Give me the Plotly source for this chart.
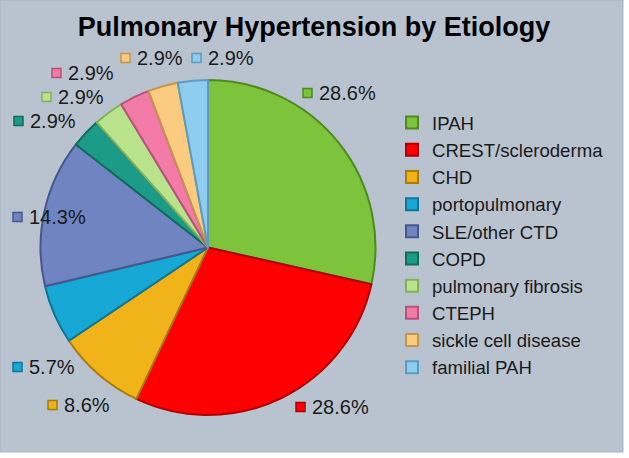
import plotly.graph_objects as go

# ---- data ----
categories = ["IPAH", "CREST/scleroderma", "CHD", "portopulmonary", "SLE/other CTD",
              "COPD", "pulmonary fibrosis", "CTEPH", "sickle cell disease", "familial PAH"]
percent_values = [28.6, 28.6, 8.6, 5.7, 14.3, 2.9, 2.9, 2.9, 2.9, 2.9]

# ---- styles ----
slice_colors = ["#7DC43C", "#FF0000", "#F0B31A", "#17A8D6", "#6F84C0",
                "#1C9C88", "#B9E38C", "#F27BA8", "#FBCB80", "#8ECDF0"]
edge_colors = ["#4E8A1E", "#B00000", "#A87B0A", "#0C7598", "#47578C",
               "#0F6B5C", "#84B25A", "#B8527A", "#C29550", "#5C9CC0"]

W, H = 629, 458
# data-label placement (pixel coords: marker left x, centre y)
label_x = [303, 296, 48, 13, 13, 14, 42, 52, 121, 192]
label_y = [93, 407, 405, 367, 217, 121, 97, 73, 58, 58]

FONT = "Liberation Sans, Arial, sans-serif"

fig = go.Figure(go.Pie(
    labels=categories,
    values=percent_values,
    sort=False,
    direction="clockwise",
    rotation=0,
    textinfo="none",
    hoverinfo="label+value",
    marker=dict(colors=slice_colors, line=dict(color=edge_colors, width=2)),
    domain=dict(x=[40 / W, 376 / W], y=[1 - 415 / H, 1 - 80 / H]),
))

shapes = [dict(type="rect", xref="paper", yref="paper",
               x0=0, x1=623 / W, y0=1 - 452 / H, y1=1,
               fillcolor="#B9C3D0", line=dict(color="#A9B3C0", width=1), layer="below")]
annotations = []
for v, c, e, lx, ly in zip(percent_values, slice_colors, edge_colors, label_x, label_y):
    shapes.append(dict(type="rect", xref="paper", yref="paper",
                       x0=lx / W, x1=(lx + 9) / W,
                       y0=1 - (ly + 4.5) / H, y1=1 - (ly - 4.5) / H,
                       fillcolor=c, line=dict(color=e, width=1.5)))
    annotations.append(dict(xref="paper", yref="paper", x=(lx + 14) / W, y=1 - ly / H,
                            xanchor="left", yanchor="middle", showarrow=False,
                            text=f"{v:.1f}%", font=dict(family=FONT, size=20, color="#1a1a1a")))

fig.update_layout(
    width=W, height=H,
    margin=dict(l=0, r=0, t=0, b=0),
    paper_bgcolor="white",
    plot_bgcolor="rgba(0,0,0,0)",
    title=dict(text="<b>Pulmonary Hypertension by Etiology</b>",
               x=314 / W, xanchor="center", y=1 - 27 / H, yanchor="middle",
               font=dict(family=FONT, size=27, color="black")),
    legend=dict(x=392 / W, y=1 - 104 / H, xanchor="left", yanchor="top",
                font=dict(family=FONT, size=18.6, color="#1a1a1a"),
                bgcolor="rgba(0,0,0,0)", traceorder="normal"),
    shapes=shapes,
    annotations=annotations,
)

fig.write_html("out.html", config={"displayModeBar": False},
               post_script="document.body.style.margin='0px';")
